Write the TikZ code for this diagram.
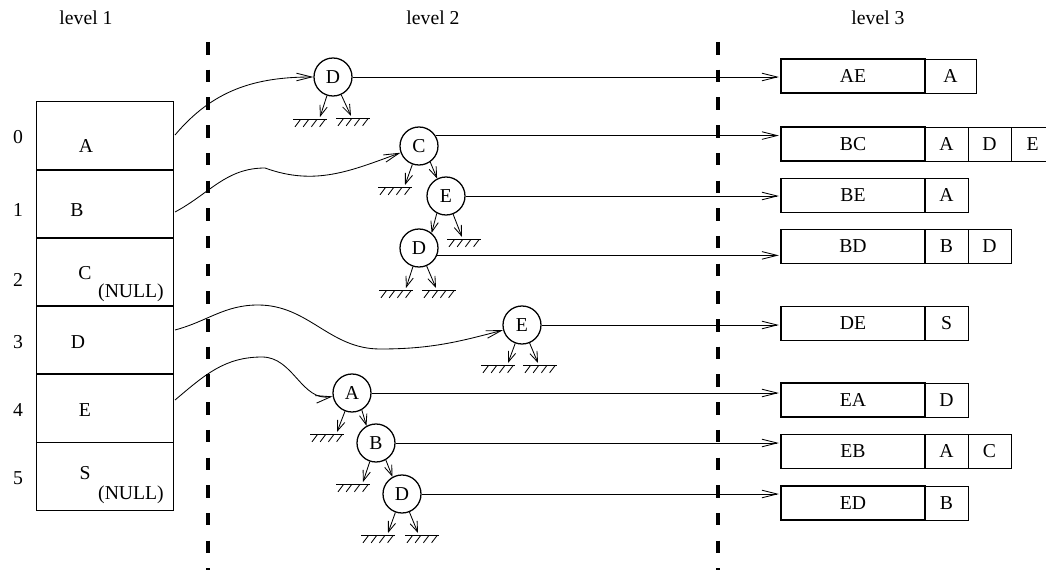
\documentclass[tikz,border=0pt]{standalone}
\usepackage{fontspec}
\setmainfont{Liberation Serif}
\usetikzlibrary{positioning,arrows.meta,calc}

\tikzset{
  gnd/.pic={
    \draw[line width=0.6pt] (0,0) -- (34,0);
    \foreach \k in {0,...,3}
      \draw[line width=0.6pt] (7.5+8.2*\k,0) -- (2+8.2*\k,7.3);
  }
}

\begin{document}
\begin{tikzpicture}[x=0.025cm, y=-0.025cm,
  every node/.style={font=\fontsize{14}{16}\selectfont},
  slot/.style={rectangle, draw, line width=0.7pt, minimum width=3.4cm,
               minimum height=1.7cm, inner sep=0pt, outer sep=0pt},
  tnode/.style={circle, draw, line width=0.9pt, minimum size=0.95cm, inner sep=0pt},
  keybox/.style={rectangle, draw, line width=1.1pt, minimum width=3.6cm,
                 minimum height=0.85cm, inner sep=0pt, outer sep=0pt},
  cell/.style={rectangle, draw, line width=0.6pt, minimum width=1.075cm,
               minimum height=0.85cm, inner sep=0pt, outer sep=0pt},
  link/.style={-{Straight Barb[length=3.8mm,width=1.9mm]}, line width=0.6pt},
  kid/.style={-{Straight Barb[length=2.6mm,width=1.9mm]}, line width=0.6pt},
  wall/.style={line width=2.3pt, dash pattern=on 8.9pt off 10.8pt}
]
  \useasboundingbox (0,0) rectangle (1046,570);

  % level headings and separators
  \node (lv1) at (86,18) {level 1};
  \node (lv2) at (433,18) {level 2};
  \node (lv3) at (878,18) {level 3};
  \foreach \w/\wx in {w1/208, w2/718} {
    \coordinate (\w t) at (\wx,42);
    \coordinate (\w b) at (\wx,572);
    \draw[wall] (\w t) -- (\w b);
  }

  % level 1 table
  \foreach \i/\lab/\lx/\ly/\ny in {0/A/86/146/137, 1/B/77/210/210, 2/C/85/273/280,
                                   3/D/78/342/342, 4/E/85/410/410, 5/S/85/473/478} {
    \node[slot] (r\i) at (105,136+68*\i) {};
    \node (lab\i) at (\lx,\ly) {\lab};
    \node (idx\i) at (18,\ny) {\i};
  }
  \node (null2) at (131,293) {(NULL)};
  \node (null5) at (131,495) {(NULL)};

  % level 2 trees
  \foreach \n/\px/\py/\lab in {t0D/333/77/D, t1C/419/146/C, t1E/446/196/E, t1D/419/248/D,
                               t3E/522/325/E, t4A/352/393/A, t4B/376/443/B, t4D/402/494/D}
    \node[tnode] (\n) at (\px,\py) {\lab};

  \draw[kid] (t1C.305) -- (t1E.117);
  \draw[kid] (t1E.242) -- (t1D.50);
  \draw[kid] (t4A.300) -- (t4B.119);
  \draw[kid] (t4B.300) -- (t4D.119);

  \foreach \n/\s/\px/\py/\off in {t0D/l/320/117/-27, t0D/r/351/116/-15, t1C/l/405/185/-27,
                                  t1E/r/462/237/-15, t1D/l/406/288/-27, t1D/r/436/288/-14,
                                  t3E/l/508/363/-27, t3E/r/538/363/-15, t4A/l/337/432/-27,
                                  t4B/l/363/482/-27, t4D/l/388/533/-27, t4D/r/418/533/-13} {
    \coordinate (\n\s) at (\px,\py);
    \draw[kid] (\n) -- (\n\s);
    \pic at ($(\n\s)+(\off,2.5)$) {gnd};
  }

  \draw[link] ($(r0.east)+(2,-1)$) to[out=50,in=180] (t0D);
  \draw[link] ($(r1.east)+(2,8)$) to[out=28,in=180] (265,168) to[out=-20,in=200] (t1C);
  \draw[link] ($(r3.east)+(2,-10)$) to[out=15,in=180] (258,305)
              to[out=0,in=180] (380,349) to[out=0,in=195] (t3E);
  \draw[link] ($(r4.east)+(2,-8)$) to[out=40,in=180] (262,357) to[out=0,in=190] (t4A);

  % level 3 keys
  \foreach \k/\py in {AE/76, BC/144, BE/195.5, BD/246.5, DE/323.5, EA/400, EB/451.5, ED/503}
    \node[keybox] (k\k) at (853,\py) {\k};

  \node[cell, minimum width=1.275cm, right=0pt of kAE] (kAE1) {A};
  \node[cell, right=0pt of kBC] (kBC1) {A};
  \node[cell, right=0pt of kBC1] (kBC2) {D};
  \node[cell, right=0pt of kBC2] (kBC3) {E};
  \node[cell, right=0pt of kBE] (kBE1) {A};
  \node[cell, right=0pt of kBD] (kBD1) {B};
  \node[cell, right=0pt of kBD1] (kBD2) {D};
  \node[cell, right=0pt of kDE] (kDE1) {S};
  \node[cell, right=0pt of kEA] (kEA1) {D};
  \node[cell, right=0pt of kEB] (kEB1) {A};
  \node[cell, right=0pt of kEB1] (kEB2) {C};
  \node[cell, right=0pt of kED] (kED1) {B};

  \foreach \t/\a/\k in {t0D/0/AE, t1C/32/BC, t1E/0/BE, t1D/338/BD,
                        t3E/0/DE, t4A/0/EA, t4B/0/EB, t4D/0/ED}
    \draw[link, shorten >=1.5pt] (\t.\a) -- (\t.\a -| k\k.west);
\end{tikzpicture}
\end{document}
